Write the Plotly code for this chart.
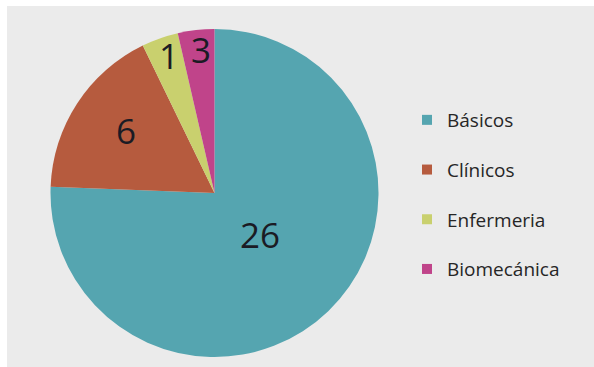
import math
import plotly.graph_objects as go

categories = ["Básicos", "Clínicos", "Enfermeria", "Biomecánica"]
slice_shares = [75.6, 17.2, 3.6, 3.6]   # angular share (%)
slice_labels = ["26", "6", "1", "3"]    # numbers printed on the slices
colors = ["#55a5b0", "#b65b3e", "#c9d06e", "#c0448a"]
label_radius = [0.38, 0.66, 0.87, 0.86]  # label distance from centre, fraction of radius

W, H = 594, 367
pie_x = [50 / W, 379 / W]
pie_y = [1 - 357 / H, 1 - 29 / H]

fig = go.Figure()

fig.add_trace(go.Pie(
    labels=categories,
    values=slice_shares,
    text=slice_labels,
    textinfo="none",
    marker=dict(colors=colors, line=dict(width=0)),
    sort=False,
    direction="clockwise",
    rotation=0,
    showlegend=False,
    domain=dict(x=pie_x, y=pie_y),
))

# slice labels placed along each slice's mid-angle
cx = (pie_x[0] + pie_x[1]) / 2 * W
cy = (1 - (pie_y[0] + pie_y[1]) / 2) * H
R = min((pie_x[1] - pie_x[0]) * W, (pie_y[1] - pie_y[0]) * H) / 2
total = sum(slice_shares)
cum = 0.0
annotations = []
for share, lab, frac in zip(slice_shares, slice_labels, label_radius):
    mid = (cum + share / 2) / total * 2 * math.pi
    cum += share
    px = cx + frac * R * math.sin(mid)
    py = cy - frac * R * math.cos(mid)
    annotations.append(dict(
        x=px / W, y=1 - py / H, xref="paper", yref="paper",
        text=lab, showarrow=False, xanchor="center", yanchor="middle",
        xshift=2, yshift=3,
        font=dict(family="Open Sans", size=35, color="#1b1b24"),
    ))

for i, (cat, col) in enumerate(zip(categories, colors)):
    fig.add_trace(go.Scatter(
        x=[None], y=[None], mode="markers",
        marker=dict(symbol="square", size=10, color=col),
        name=cat, legendgroup=f"g{i}", showlegend=True,
    ))

fig.update_layout(
    width=W, height=H,
    margin=dict(l=0, r=0, t=0, b=0),
    paper_bgcolor="white",
    plot_bgcolor="rgba(0,0,0,0)",
    xaxis=dict(visible=False),
    yaxis=dict(visible=False),
    legend=dict(
        x=(447 - 40) / W, y=1 - 101 / H,
        xanchor="left", yanchor="top",
        font=dict(family="Open Sans", size=19, color="#262626"),
        tracegroupgap=22,
        bgcolor="rgba(0,0,0,0)",
    ),
    annotations=annotations,
    shapes=[dict(
        type="rect", xref="paper", yref="paper",
        x0=7 / W, x1=1, y0=0, y1=1 - 6 / H,
        fillcolor="#ebebeb", line=dict(width=0), layer="below",
    )],
)

fig.write_html("out.html")
